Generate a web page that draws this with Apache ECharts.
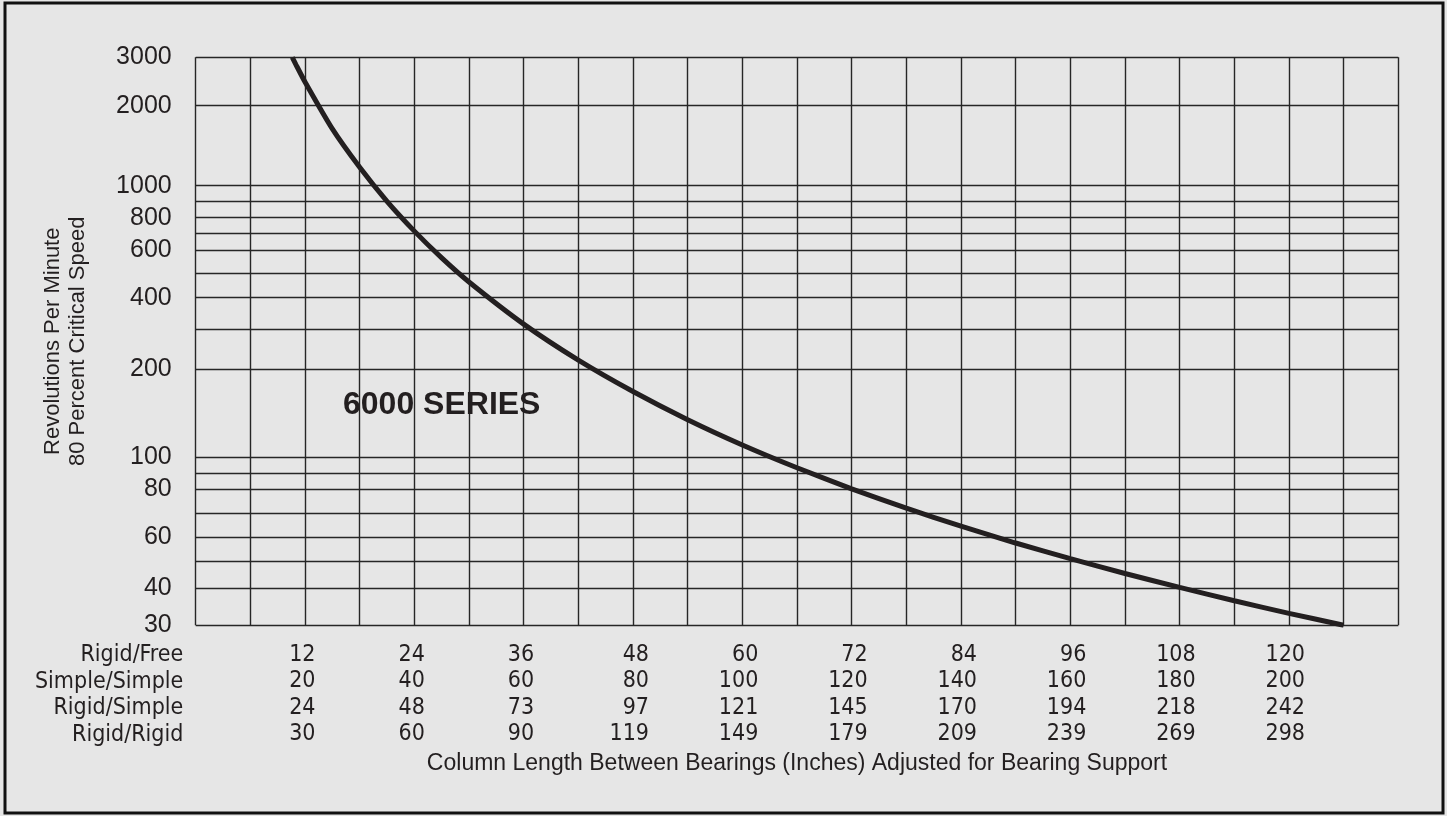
<!DOCTYPE html>
<html>
<head>
<meta charset="utf-8">
<title>6000 Series critical speed</title>
<script src="https://cdn.jsdelivr.net/npm/echarts@6.0.0/dist/echarts.min.js"></script>
<style>
  html, body { margin: 0; padding: 0; background: #e6e6e6; }
  #main { width: 1447px; height: 816px; }
</style>
</head>
<body>
<div id="main"></div>
<script>
// rpm grid of the printed chart (not a true log scale) and the height of each line above the 30 rpm line
var rpmGrid = [30, 40, 50, 60, 70, 80, 90, 100, 200, 300, 400, 500, 600, 700, 800, 900, 1000, 2000, 3000];
var rpmGridHeight = [0, 37, 63.7, 87.7, 111.7, 135.7, 151.7, 167.7, 255.7, 295.7, 327.5, 351.7, 375, 391.7, 407.5, 423.5, 439.5, 519.5, 567.9];
var rpmLabels = [30, 40, 60, 80, 100, 200, 400, 600, 800, 1000, 2000, 3000];

// bottom scale rows (inches)
var rowNames = ['Rigid/Free', 'Simple/Simple', 'Rigid/Simple', 'Rigid/Rigid'];
var rigidFree = [12, 24, 36, 48, 60, 72, 84, 96, 108, 120];
var simpleSimple = [20, 40, 60, 80, 100, 120, 140, 160, 180, 200];
var rigidSimple = [24, 48, 73, 97, 121, 145, 170, 194, 218, 242];
var rigidRigid = [30, 60, 90, 119, 149, 179, 209, 239, 269, 298];

// curve (x in Rigid/Free inches)
var curveInches = [10.6, 11, 12, 15, 18, 21, 24, 27, 30, 36, 42, 48, 54, 60, 66, 72, 78, 84, 90, 96, 102, 108, 114, 120, 126];
var curveRpm = [3000, 2850, 2490, 1710, 1230, 902, 715, 567, 465, 317, 223.5, 175, 143, 114.3, 93.6, 80.4, 72.2, 64.7, 57.7, 51.2, 45.5, 40.3, 36.6, 33.2, 30];

var seriesName = '6000 SERIES';
var xTitle = 'Column Length Between Bearings (Inches) Adjusted for Bearing Support';
var yTitle = 'Revolutions Per Minute\n80 Percent Critical Speed';

var ink = '#231f20';
var plainFont = '"Liberation Sans", Arial, Helvetica, sans-serif';
var narrowFont = '"Liberation Sans Narrow", "DejaVu Sans Condensed", "Liberation Sans", sans-serif';

// rpm -> height on the printed scale (linear between grid lines)
function rpmToPos(r) {
    for (var i = 1; i < rpmGrid.length; i++) {
        if (r <= rpmGrid[i]) {
            var f = (r - rpmGrid[i - 1]) / (rpmGrid[i] - rpmGrid[i - 1]);
            return rpmGridHeight[i - 1] + f * (rpmGridHeight[i] - rpmGridHeight[i - 1]);
        }
    }
    return rpmGridHeight[rpmGridHeight.length - 1];
}

var labelPos = rpmLabels.map(rpmToPos);

var curveData = [];
for (var i = 0; i < curveInches.length; i++) {
    curveData.push([curveInches[i], rpmToPos(curveRpm[i])]);
}

var myChart = echarts.init(document.getElementById('main'));

var option = {
    backgroundColor: '#e6e6e6',
    animation: false,
    grid: {
        left: 195.7,
        right: 48.7,
        top: 57.3,
        bottom: 190.8
    },
    xAxis: {
        type: 'value',
        min: 0,
        max: 132,
        interval: 6,
        name: xTitle,
        nameLocation: 'middle',
        nameGap: 127,
        nameTextStyle: { color: ink, fontFamily: plainFont, fontSize: 23 },
        axisLine: { show: false },
        axisTick: { show: false },
        splitLine: { show: true, lineStyle: { color: '#262626', width: 1.4 } },
        axisLabel: {
            customValues: rigidFree,
            margin: 16.5,
            formatter: function (v) {
                var k = rigidFree.indexOf(v);
                if (k < 0) return '';
                var col = [rigidFree[k], simpleSimple[k], rigidSimple[k], rigidRigid[k]];
                var wide = col.some(function (n) { return n >= 100; });
                var st = wide ? 'b' : 'a';
                return col.map(function (n) { return '{' + st + '|' + n + '}'; }).join('\n');
            },
            rich: {
                a: { width: 21, align: 'right', fontFamily: narrowFont, fontSize: 23, lineHeight: 26.5, color: ink },
                b: { width: 32, align: 'right', fontFamily: narrowFont, fontSize: 23, lineHeight: 26.5, color: ink }
            }
        }
    },
    yAxis: {
        type: 'value',
        min: 0,
        max: rpmGridHeight[rpmGridHeight.length - 1],
        name: yTitle,
        nameLocation: 'middle',
        nameRotate: 90,
        nameGap: 105,
        nameTextStyle: { color: ink, fontFamily: plainFont, fontSize: 22, lineHeight: 25 },
        axisLine: { show: false },
        axisTick: { show: false, customValues: rpmGridHeight },
        splitLine: { show: true, lineStyle: { color: '#262626', width: 1.4 } },
        axisLabel: {
            customValues: labelPos,
            margin: 24,
            color: ink,
            fontFamily: plainFont,
            fontSize: 25,
            formatter: function (v) {
                for (var j = 0; j < labelPos.length; j++) {
                    if (Math.abs(labelPos[j] - v) < 0.01) return String(rpmLabels[j]);
                }
                return '';
            }
        }
    },
    graphic: [
        {
            type: 'text',
            x: 183.3,
            y: 641.8,
            style: {
                text: rowNames.join('\n'),
                align: 'right',
                verticalAlign: 'top',
                lineHeight: 26.5,
                font: '23px ' + narrowFont,
                fill: ink
            }
        },
        {
            type: 'text',
            x: 343,
            y: 405.5,
            z: 10,
            style: {
                text: seriesName,
                align: 'left',
                verticalAlign: 'middle',
                font: 'bold 32px ' + plainFont,
                fill: ink
            }
        },
        {
            type: 'rect',
            shape: { x: 5, y: 3, width: 1438, height: 810 },
            style: { fill: 'none', stroke: '#111', lineWidth: 3 }
        }
    ],
    series: [
        {
            name: seriesName,
            type: 'line',
            data: curveData,
            smooth: 0.2,
            symbol: 'none',
            clip: true,
            lineStyle: { color: ink, width: 5 },
            z: 5
        }
    ]
};

myChart.setOption(option);
</script>
</body>
</html>
